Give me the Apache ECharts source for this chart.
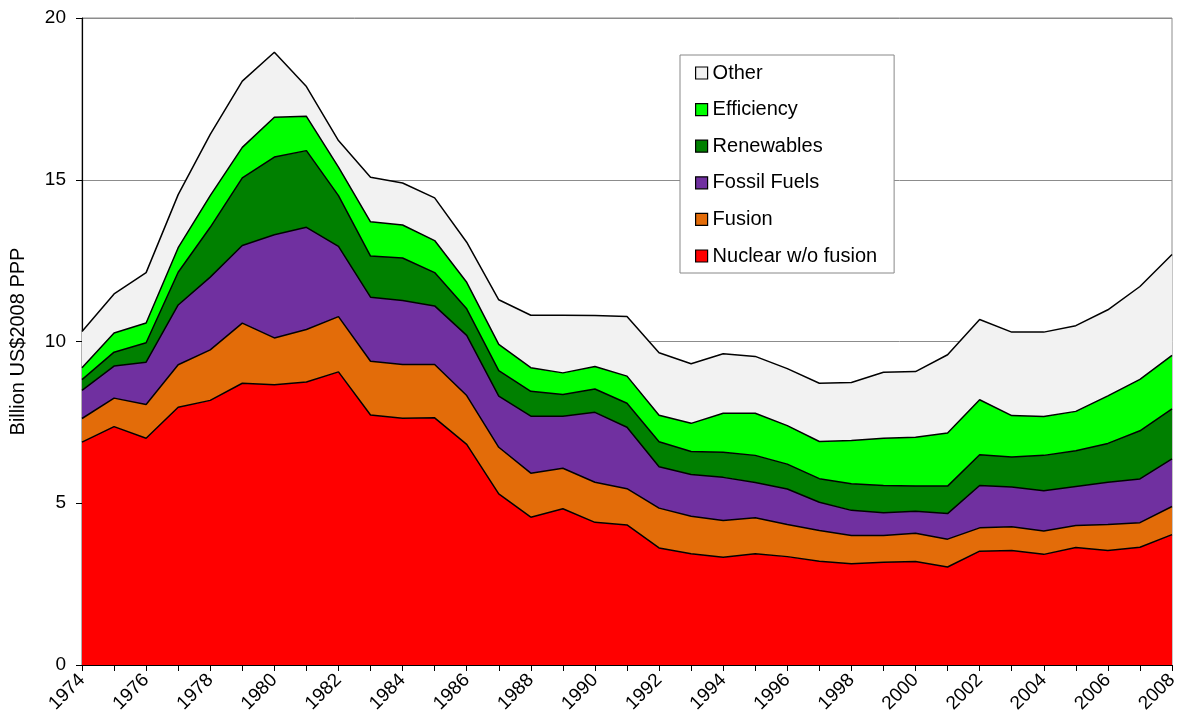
<!DOCTYPE html>
<html>
<head>
<meta charset="utf-8">
<script src="https://cdn.jsdelivr.net/npm/echarts@6/dist/echarts.min.js"></script>
<style>html,body{margin:0;padding:0;background:#fff;}#c{width:1177px;height:715px;}</style>
</head>
<body>
<div id="c"></div>
<script>
const years = ['1974','1975','1976','1977','1978','1979','1980','1981','1982','1983','1984','1985','1986','1987','1988','1989','1990','1991','1992','1993','1994','1995','1996','1997','1998','1999','2000','2001','2002','2003','2004','2005','2006','2007','2008'];
const nuclear = [6.89,7.37,7.01,7.97,8.18,8.71,8.66,8.75,9.06,7.73,7.63,7.64,6.82,5.29,4.57,4.83,4.41,4.33,3.62,3.44,3.33,3.44,3.35,3.21,3.13,3.18,3.20,3.03,3.52,3.54,3.42,3.63,3.54,3.64,4.03];
const fusion = [0.73,0.88,1.04,1.31,1.56,1.86,1.45,1.62,1.71,1.66,1.66,1.65,1.51,1.44,1.36,1.25,1.24,1.12,1.23,1.16,1.14,1.11,0.99,0.95,0.87,0.82,0.87,0.86,0.72,0.73,0.72,0.68,0.80,0.76,0.87];
const fossil = [0.87,0.99,1.31,1.85,2.25,2.40,3.19,3.16,2.17,1.98,1.98,1.81,1.86,1.58,1.76,1.61,2.16,1.90,1.28,1.29,1.33,1.09,1.10,0.87,0.78,0.71,0.68,0.79,1.31,1.23,1.25,1.21,1.31,1.35,1.47];
const renewables = [0.33,0.43,0.60,1.01,1.54,2.09,2.40,2.37,1.57,1.27,1.31,1.03,0.82,0.79,0.77,0.67,0.72,0.74,0.77,0.71,0.78,0.84,0.77,0.73,0.82,0.84,0.78,0.85,0.95,0.93,1.09,1.10,1.20,1.49,1.55];
const efficiency = [0.37,0.59,0.61,0.76,0.98,0.94,1.23,1.06,0.88,1.06,1.02,0.99,0.82,0.81,0.73,0.67,0.70,0.84,0.82,0.87,1.20,1.30,1.19,1.15,1.34,1.46,1.51,1.64,1.70,1.28,1.20,1.22,1.47,1.59,1.65];
const other = [1.12,1.21,1.56,1.64,1.89,2.05,2.01,0.92,0.82,1.38,1.30,1.32,1.24,1.38,1.62,1.78,1.57,1.84,1.93,1.84,1.84,1.76,1.76,1.80,1.79,2.04,2.03,2.42,2.48,2.58,2.61,2.65,2.66,2.87,3.12];
const yTicks = [0,5,10,15,20];

const FONT = '"Liberation Sans", Arial, sans-serif';
const seriesDefs = [
  {name:'Nuclear w/o fusion', data:nuclear, color:'#FF0000'},
  {name:'Fusion', data:fusion, color:'#E36C09'},
  {name:'Fossil Fuels', data:fossil, color:'#7030A0'},
  {name:'Renewables', data:renewables, color:'#008000'},
  {name:'Efficiency', data:efficiency, color:'#00FF00'},
  {name:'Other', data:other, color:'#F2F2F2'}
];

const chart = echarts.init(document.getElementById('c'), null, {renderer:'canvas'});
chart.setOption({
  animation:false,
  backgroundColor:'#fff',
  textStyle:{fontFamily:FONT},
  grid:{left:82, right:5, top:18, bottom:50, containLabel:false, outerBoundsMode:'none',
        show:true, borderColor:'#8c8c8c', borderWidth:1, backgroundColor:'transparent'},
  legend:{
    orient:'vertical', left:680, top:55,
    data:['Other','Efficiency','Renewables','Fossil Fuels','Fusion','Nuclear w/o fusion'],
    icon:'rect', itemWidth:12, itemHeight:12, itemGap:16.6,
    backgroundColor:'#fff', borderColor:'#888', borderWidth:1,
    padding:[8,17,7,15],
    textStyle:{fontSize:20, lineHeight:20, color:'#000', fontFamily:FONT},
    itemStyle:{borderColor:'#000', borderWidth:1.2}
  },
  xAxis:{
    type:'category', data:years, boundaryGap:false,
    axisLine:{lineStyle:{color:'#000', width:1.2}},
    axisTick:{show:true, interval:0, length:6, lineStyle:{color:'#000'}},
    axisLabel:{interval:1, rotate:45, fontSize:19, color:'#000', fontFamily:FONT, margin:12},
    splitLine:{show:false}
  },
  yAxis:{
    type:'value', min:yTicks[0], max:yTicks[yTicks.length-1], interval:5,
    name:'Billion US$2008 PPP', nameLocation:'middle', nameGap:54, nameRotate:90,
    nameTextStyle:{fontSize:20, color:'#000', fontFamily:FONT},
    axisLine:{show:true, lineStyle:{color:'#000', width:1.2}},
    axisTick:{show:true, length:6, lineStyle:{color:'#000'}},
    axisLabel:{fontSize:19, color:'#000', fontFamily:FONT, margin:16},
    splitLine:{show:true, lineStyle:{color:'#8c8c8c', width:1}}
  },
  series: seriesDefs.map(s => ({
    name:s.name, type:'line', stack:'total', data:s.data,
    symbol:'none', smooth:false,
    lineStyle:{color:'#000', width:1.5},
    areaStyle:{color:s.color, opacity:1},
    itemStyle:{color:s.color},
    emphasis:{disabled:true}
  }))
});
</script>
</body>
</html>
